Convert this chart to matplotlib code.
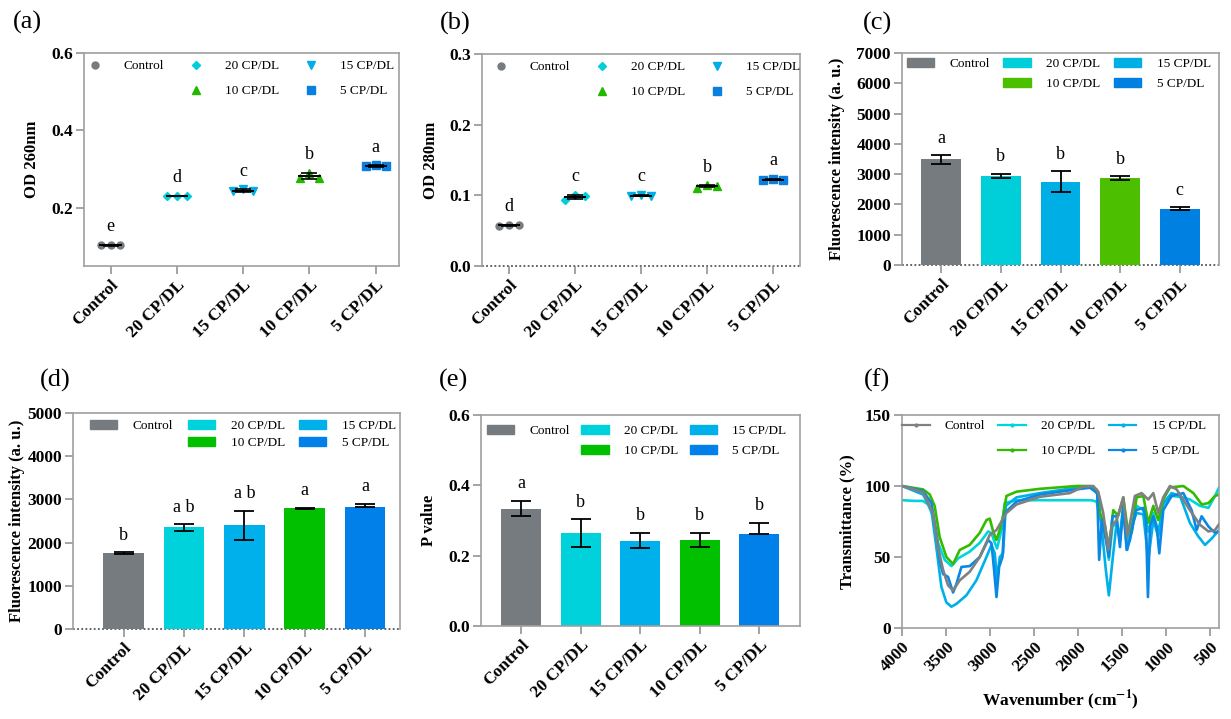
import matplotlib
matplotlib.use("Agg")

import matplotlib.pyplot as plt
import numpy as np
from matplotlib.lines import Line2D
from matplotlib.patches import Patch

plt.rcParams['font.family'] = ['Liberation Serif', 'DejaVu Serif']
plt.rcParams['mathtext.fontset'] = 'stix'

# --- data ---
groups = ['Control', '20 CP/DL', '15 CP/DL', '10 CP/DL', '5 CP/DL']

od260 = [[0.103, 0.104, 0.103], [0.230, 0.231, 0.230], [0.243, 0.248, 0.243],
         [0.277, 0.290, 0.278], [0.307, 0.310, 0.308]]
od260_letters = ['e', 'd', 'c', 'b', 'a']

od280 = [[0.057, 0.058, 0.058], [0.094, 0.100, 0.099], [0.099, 0.101, 0.099],
         [0.111, 0.114, 0.113], [0.121, 0.123, 0.122]]
od280_letters = ['d', 'c', 'c', 'b', 'a']

fluo_c_mean = [3490, 2950, 2750, 2870, 1850]
fluo_c_sd = [140, 70, 340, 60, 50]
fluo_c_letters = ['a', 'b', 'b', 'b', 'c']

fluo_d_mean = [1760, 2350, 2400, 2795, 2825]
fluo_d_sd = [25, 75, 337, 12, 80]
fluo_d_letters = ['b', 'a b', 'a b', 'a', 'a']

pval_mean = [0.334, 0.264, 0.243, 0.245, 0.262]
pval_sd = [0.022, 0.040, 0.022, 0.0205, 0.032]
pval_letters = ['a', 'b', 'b', 'b', 'b']

# FTIR spectra (wavenumber, transmittance %)
ftir_ctrl_wn = [4000, 3761, 3648, 3591, 3534, 3477, 3420, 3344, 3231, 3117, 3003, 2927, 2870,
                2814, 2700, 2435, 2094, 1942, 1828, 1771, 1715, 1658, 1620, 1563, 1487, 1442,
                1404, 1355, 1279, 1203, 1146, 1090, 1033, 957, 881, 730, 616, 520, 445, 400]
ftir_ctrl_t = [100, 95.7, 81, 57, 41, 30, 26.5, 33.6, 39.6, 50, 65.6, 69, 75,
               81, 87, 92.4, 95, 99.5, 100, 96, 81, 55, 71.5, 76, 92, 64.5,
               76, 93, 95, 90.5, 95, 81, 92, 100, 97.6, 83, 72.7, 68, 69, 73]

ftir_20_wn = [4000, 3850, 3761, 3704, 3648, 3591, 3515, 3439, 3363, 3231, 3117, 3022, 2984,
              2946, 2920, 2870, 2833, 2700, 2200, 1850, 1790, 1745, 1696, 1651, 1609, 1563,
              1525, 1487, 1442, 1392, 1336, 1260, 1203, 1146, 1090, 1033, 938, 843, 730,
              616, 520, 445, 400]
ftir_20_t = [90, 89.5, 89.5, 87, 78.7, 60, 48, 43.6, 49, 53.8, 60, 68, 66.8,
             60, 56, 69, 88, 90, 90, 90, 89, 76, 72.7, 48, 71.5, 74,
             64.5, 88, 60, 72.7, 86, 83, 68, 81, 66.8, 87, 93, 92.4, 90.5,
             86, 84.6, 93, 99]

ftir_15_wn = [4000, 3761, 3666, 3610, 3553, 3496, 3439, 3382, 3269, 3155, 3041, 2984, 2946,
              2920, 2890, 2852, 2821, 2700, 2435, 2018, 1828, 1771, 1734, 1685, 1651, 1609,
              1563, 1525, 1487, 1442, 1392, 1336, 1260, 1203, 1146, 1090, 1033, 938, 843,
              730, 635, 559, 483, 400]
ftir_15_t = [100, 94, 83, 57, 29, 18, 15, 17, 23, 33.6, 50, 58.5, 52.6,
             33.6, 50, 52.6, 86, 92, 95, 98.8, 99.5, 93, 71.5, 40.8, 23, 48,
             74, 62, 83, 55, 71.5, 81, 80, 48, 76, 64.5, 88, 95, 93,
             74, 64.5, 58.5, 63, 69]

ftir_10_wn = [4000, 3761, 3685, 3629, 3572, 3496, 3420, 3344, 3231, 3117, 3041, 3003, 2965,
              2927, 2890, 2852, 2814, 2700, 2435, 2018, 1866, 1790, 1753, 1696, 1646, 1601,
              1544, 1487, 1442, 1392, 1336, 1260, 1203, 1146, 1090, 1033, 957, 805, 691,
              596, 520, 445, 400]
ftir_10_t = [100, 97.6, 94, 86, 64, 50, 45, 55, 58.5, 67, 76, 77, 68,
             62, 69, 79, 93, 96, 98, 100, 100, 97.6, 81, 71.5, 57, 83,
             79, 92, 71.5, 67, 92, 93, 74, 86, 76, 90.5, 99, 100, 95,
             87, 88, 93, 94]

ftir_5_wn = [4000, 3761, 3666, 3610, 3572, 3534, 3477, 3420, 3382, 3325, 3231, 3117, 3022,
             2984, 2954, 2927, 2897, 2859, 2833, 2700, 2435, 2018, 1866, 1783, 1761, 1730,
             1685, 1651, 1609, 1563, 1525, 1487, 1449, 1411, 1343, 1260, 1230, 1207, 1184,
             1146, 1108, 1078, 1033, 938, 805, 711, 654, 597, 520, 445, 400]
ftir_5_t = [100, 96.5, 88, 67, 48, 38, 36, 25, 31, 43, 43.6, 50, 62,
            59.7, 40.8, 21.8, 43, 50, 81, 89, 94, 97.6, 98.8, 95, 48, 76,
            62, 50, 78.7, 78.7, 57, 86, 55, 62, 83, 84.6, 76, 21.8, 71.5,
            78.7, 71.5, 52.6, 83, 93, 95, 83, 69, 78.7, 71.5, 67, 68]

# --- styling ---
col_scatter = ['#767b7f', '#00ced9', '#00aee6', '#22b800', '#0a7fe0']
col_c = ['#767b7f', '#00ced9', '#00aee6', '#4cbf00', '#0080e0']
col_de = ['#767b7f', '#00d2dc', '#00b0ea', '#00c000', '#0080e8']
col_ftir = ['#808080', '#00d4dc', '#00b0e8', '#33bb00', '#0a88e6']
markers = ['o', 'D', 'v', '^', 's']
msizes = [5, 4.2, 5.8, 5.8, 5.2]

W, H = 1231, 719
fig = plt.figure(figsize=(W / 100, H / 100), dpi=100)
SPINE = '#a0a0a0'


def add_axes(L, T, R, B):
    return fig.add_axes([L / W, 1 - B / H, (R - L) / W, (B - T) / H])


def style(ax, ylabel, ylab_x, dotted_zero=False):
    for s in ax.spines.values():
        s.set_color(SPINE)
        s.set_linewidth(1.2)
    ax.tick_params(axis='both', color='#8a8a8a', width=1.1, length=6, direction='out',
                   labelsize=12.5, pad=2)
    for lab in ax.get_yticklabels():
        lab.set_fontweight('bold')
    ax.set_ylabel(ylabel, fontsize=12, fontweight='bold', va='center')
    ax.yaxis.set_label_coords(ylab_x, 0.5)
    if dotted_zero:
        ax.spines['bottom'].set_visible(False)
        ax.axhline(0, color='#555555', lw=1.3, ls=(0, (1, 1.3)), zorder=1, clip_on=False)


def cat_xticks(ax):
    ax.set_xticks(range(len(groups)))
    ax.set_xticklabels(groups, rotation=45, ha='right', rotation_mode='anchor',
                       fontsize=13, fontweight='bold')
    ax.tick_params(axis='x', length=8, pad=4)


def add_legend(ax, handles, labels, x, y, hl, htp, cs, ls):
    ax.legend(handles, labels, ncol=3, loc='upper left', frameon=False,
              bbox_to_anchor=(x / W, 1 - y / H), bbox_transform=fig.transFigure,
              borderpad=0, borderaxespad=0, handlelength=hl, handletextpad=htp,
              columnspacing=cs, labelspacing=ls, prop={'size': 9.5, 'family': 'Liberation Serif'})


def legend_order(hs):
    blank = Line2D([], [], linestyle='none')
    return [hs[0], blank, hs[1], hs[3], hs[2], hs[4]], \
        [groups[0], ' ', groups[1], groups[3], groups[2], groups[4]]


def scatter_panel(ax, data, letters):
    for i, vals in enumerate(data):
        vals = np.array(vals)
        m, sd = vals.mean(), vals.std(ddof=1)
        ax.plot(i + np.array([-0.15, 0, 0.15]), vals, linestyle='none', marker=markers[i],
                ms=msizes[i], color=col_scatter[i], mec=col_scatter[i], zorder=3)
        ax.hlines(m, i - 0.17, i + 0.17, color='black', lw=1.4, zorder=4)
        ax.errorbar(i, m, yerr=sd, fmt='none', ecolor='black', elinewidth=1.2,
                    capsize=6, capthick=1.2, zorder=4)
        top = max(vals.max(), m + sd)
        ax.annotate(letters[i], (i, top), xytext=(0, 7), textcoords='offset points',
                    ha='center', va='bottom', fontsize=13)
    hs = [Line2D([], [], linestyle='none', marker=markers[i], ms=msizes[i],
                 color=col_scatter[i]) for i in range(5)]
    return hs


def bar_panel(ax, means, sds, colors, letters, up_only=()):
    x = np.arange(len(groups))
    ax.bar(x, means, width=0.67, color=colors, zorder=2)
    lo = [0 if i in up_only else s for i, s in enumerate(sds)]
    ax.errorbar(x, means, yerr=[lo, sds], fmt='none', ecolor='black', elinewidth=1.3,
                capsize=7, capthick=1.3, zorder=3)
    for i in range(len(groups)):
        ax.annotate(letters[i], (i, means[i] + sds[i]), xytext=(0, 6),
                    textcoords='offset points', ha='center', va='bottom', fontsize=13)
    return [Patch(color=c) for c in colors]


# (a) OD 260
ax = add_axes(84, 53, 399, 266)
hs = scatter_panel(ax, od260, od260_letters)
ax.set_xlim(-0.4, 4.35)
ax.set_ylim(0.05, 0.6)
ax.set_yticks([0.2, 0.4, 0.6])
ax.set_yticklabels(['0.2', '0.4', '0.6'])
cat_xticks(ax)
style(ax, 'OD 260nm', (32 - 84) / 315)
h, l = legend_order(hs)
add_legend(ax, h, l, 88, 60, 1.0, 1.7, 1.9, 0.98)

# (b) OD 280
ax = add_axes(482, 54, 800, 266)
hs = scatter_panel(ax, od280, od280_letters)
ax.set_xlim(-0.41, 4.41)
ax.set_ylim(0, 0.3)
ax.set_yticks([0.0, 0.1, 0.2, 0.3])
ax.set_yticklabels(['0.0', '0.1', '0.2', '0.3'])
cat_xticks(ax)
style(ax, 'OD 280nm', (431 - 482) / 318, dotted_zero=True)
h, l = legend_order(hs)
add_legend(ax, h, l, 494, 61, 1.0, 1.7, 1.9, 0.98)

# (c) fluorescence
ax = add_axes(902, 53, 1219, 265)
hs = bar_panel(ax, fluo_c_mean, fluo_c_sd, col_c, fluo_c_letters)
ax.set_xlim(-0.66, 4.66)
ax.set_ylim(0, 7000)
ax.set_yticks(range(0, 7001, 1000))
cat_xticks(ax)
style(ax, 'Fluorescence intensity (a. u.)', (837 - 902) / 317, dotted_zero=True)
h, l = legend_order(hs)
add_legend(ax, h, l, 907, 58, 2.05, 1.2, 1.0, 0.6)

# (d) fluorescence
ax = add_axes(73, 413, 400, 629)
hs = bar_panel(ax, fluo_d_mean, fluo_d_sd, col_de, fluo_d_letters, up_only=(4,))
ax.set_xlim(-0.84, 4.58)
ax.set_ylim(0, 5000)
ax.set_yticks(range(0, 5001, 1000))
cat_xticks(ax)
style(ax, 'Fluorescence intensity (a. u.)', (17 - 73) / 327, dotted_zero=True)
h, l = legend_order(hs)
add_legend(ax, h, l, 90, 420, 2.05, 1.2, 1.1, 0.35)

# (e) P value
ax = add_axes(481, 415, 800, 626)
hs = bar_panel(ax, pval_mean, pval_sd, col_de, pval_letters, up_only=(4,))
ax.set_xlim(-0.67, 4.68)
ax.set_ylim(0, 0.6)
ax.set_yticks([0.0, 0.2, 0.4, 0.6])
ax.set_yticklabels(['0.0', '0.2', '0.4', '0.6'])
cat_xticks(ax)
style(ax, 'P value', (429 - 481) / 319)
h, l = legend_order(hs)
add_legend(ax, h, l, 487, 425, 2.05, 1.15, 0.9, 0.6)

# (f) FTIR
ax = add_axes(902, 415, 1219, 628)
spectra = [(ftir_ctrl_wn, ftir_ctrl_t), (ftir_20_wn, ftir_20_t), (ftir_15_wn, ftir_15_t),
           (ftir_10_wn, ftir_10_t), (ftir_5_wn, ftir_5_t)]
hs = []
for i, (wn, t) in enumerate(spectra):
    ax.plot(wn, t, color=col_ftir[i], lw=1.9, zorder=2 + (i == 0))
    hs.append(Line2D([], [], color=col_ftir[i], lw=1.6, marker='o', ms=2))
ax.set_xlim(4000, 400)
ax.set_ylim(0, 150)
ax.set_yticks([0, 50, 100, 150])
ax.set_xticks(range(4000, 499, -500))
ax.set_xticklabels([str(v) for v in range(4000, 499, -500)], rotation=45, ha='right',
                   rotation_mode='anchor', fontsize=12.5, fontweight='bold')
ax.tick_params(axis='x', length=8, pad=4)
style(ax, 'Transmittance (%)', (847 - 902) / 317)
ax.set_xlabel(r'Wavenumber (cm$^{\mathbf{-1}}$)', fontsize=12.5, fontweight='bold', va='center')
ax.xaxis.set_label_coords(0.5, (628 - 700) / 213)
h, l = legend_order(hs)
add_legend(ax, h, l, 902, 420, 2.1, 1.15, 1.0, 0.98)

# panel letters
for lab, x, y in [('(a)', 27, 22), ('(b)', 455, 23), ('(c)', 877, 23),
                  ('(d)', 55, 380), ('(e)', 454, 380), ('(f)', 877, 380)]:
    fig.text(x / W, 1 - y / H, lab, ha='center', va='center', fontsize=19)

fig.savefig('out.png', dpi=100)
